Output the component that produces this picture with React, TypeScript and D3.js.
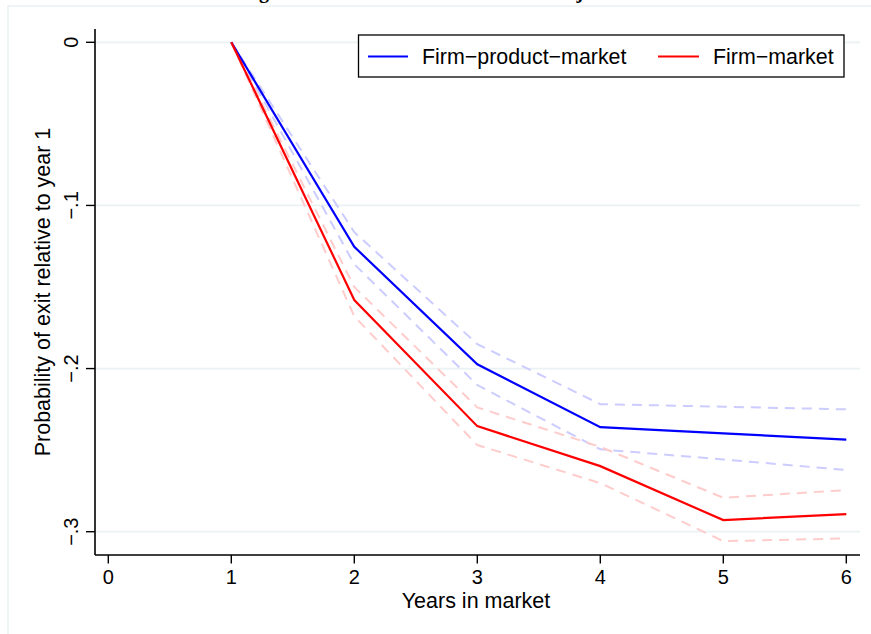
import React from "react";
import * as d3 from "d3";

const years = [1, 2, 3, 4, 5, 6];
const fpmEstimate = [0, -0.1254, -0.1974, -0.2359, -0.2397, -0.2436];
const fpmUpper = [0, -0.1164, -0.185, -0.2218, -0.2234, -0.225];
const fpmLower = [0, -0.136, -0.2101, -0.2495, -0.2557, -0.2622];
const fmEstimate = [0, -0.158, -0.2353, -0.2598, -0.2929, -0.2892];
const fmUpper = [0, -0.15, -0.2238, -0.248, -0.2792, -0.2745];
const fmLower = [0, -0.168, -0.2469, -0.2702, -0.3058, -0.3041];

const xTicks = [0, 1, 2, 3, 4, 5, 6];
const yTicks = [0, -0.1, -0.2, -0.3];
const yTickLabels = ["0", "\u2212.1", "\u2212.2", "\u2212.3"];
const seriesNames = ["Firm\u2212product\u2212market", "Firm\u2212market"];

const W = 871;
const H = 634;
const FONT = "'Liberation Sans', Arial, Helvetica, sans-serif";

export default function App() {
  const x = d3.scaleLinear().domain([0, 6]).range([108.3, 846.3]);
  const y = d3.scaleLinear().domain([-0.3, 0]).range([531.7, 42.3]);
  const axisLeft = 95;
  const axisBottom = 555;
  const axisTop = 29;
  const axisRight = 860;

  const line = d3
    .line<[number, number]>()
    .x((d) => x(d[0]))
    .y((d) => y(d[1]));
  const path = (vals: number[]) =>
    line(years.map((yr, i) => [yr, vals[i]] as [number, number])) || "";

  const grid = "#eaf2f3";
  const lightBlue = "#ccccff";
  const lightRed = "#ffcccc";

  return (
    <svg
      width={W}
      height={H}
      style={{ position: "absolute", left: 0, top: 0, background: "#fff" }}
    >
      <text
        x={435}
        y={-2.5}
        textAnchor="middle"
        fontFamily="'Liberation Serif', 'Times New Roman', serif"
        fontWeight="bold"
        fontSize={20}
      >
        Figure 4: Exit Relative to Entrance: Adjusted
      </text>
      <rect x={8} y={6} width={W + 10} height={H + 10} fill="none" stroke={grid} strokeWidth={1.5} />

      {yTicks.map((t) => (
        <line key={"g" + t} x1={axisLeft} x2={axisRight} y1={y(t)} y2={y(t)} stroke={grid} strokeWidth={1.8} />
      ))}

      <path d={path(fpmUpper)} fill="none" stroke={lightBlue} strokeWidth={2} strokeDasharray="10 7" />
      <path d={path(fpmLower)} fill="none" stroke={lightBlue} strokeWidth={2} strokeDasharray="10 7" />
      <path d={path(fmUpper)} fill="none" stroke={lightRed} strokeWidth={2} strokeDasharray="10 7" />
      <path d={path(fmLower)} fill="none" stroke={lightRed} strokeWidth={2} strokeDasharray="10 7" />
      <path d={path(fpmEstimate)} fill="none" stroke="#0000ff" strokeWidth={2.2} />
      <path d={path(fmEstimate)} fill="none" stroke="#ff0000" strokeWidth={2.2} />

      <line x1={axisLeft} x2={axisLeft} y1={axisTop} y2={axisBottom} stroke="#000" strokeWidth={1.6} />
      <line x1={axisLeft} x2={axisRight} y1={axisBottom} y2={axisBottom} stroke="#000" strokeWidth={1.6} />

      {yTicks.map((t, i) => (
        <g key={"y" + t}>
          <line x1={axisLeft - 9} x2={axisLeft} y1={y(t)} y2={y(t)} stroke="#000" strokeWidth={1.4} />
          <text
            transform={`translate(78,${y(t)}) rotate(-90)`}
            textAnchor="middle"
            fontFamily={FONT}
            fontSize={20}
            fill="#000"
          >
            {yTickLabels[i]}
          </text>
        </g>
      ))}
      {xTicks.map((t) => (
        <g key={"x" + t}>
          <line x1={x(t)} x2={x(t)} y1={axisBottom} y2={axisBottom + 8.5} stroke="#000" strokeWidth={1.4} />
          <text x={x(t)} y={584} textAnchor="middle" fontFamily={FONT} fontSize={20} fill="#000">
            {t}
          </text>
        </g>
      ))}

      <text x={476} y={608} textAnchor="middle" fontFamily={FONT} fontSize={21.5} fill="#000">
        Years in market
      </text>
      <text
        transform={`translate(50,292) rotate(-90)`}
        textAnchor="middle"
        fontFamily={FONT}
        fontSize={21.5}
        fill="#000"
      >
        Probability of exit relative to year 1
      </text>

      <rect x={358.5} y={35} width={485.5} height={42} fill="#fff" stroke="#000" strokeWidth={1.3} />
      <line x1={368} x2={408} y1={56.5} y2={56.5} stroke="#0000ff" strokeWidth={2.2} />
      <text x={422} y={64} fontFamily={FONT} fontSize={21.4} fill="#000">
        {seriesNames[0]}
      </text>
      <line x1={658} x2={699} y1={56.5} y2={56.5} stroke="#ff0000" strokeWidth={2.2} />
      <text x={713} y={64} fontFamily={FONT} fontSize={21.4} fill="#000">
        {seriesNames[1]}
      </text>
    </svg>
  );
}
